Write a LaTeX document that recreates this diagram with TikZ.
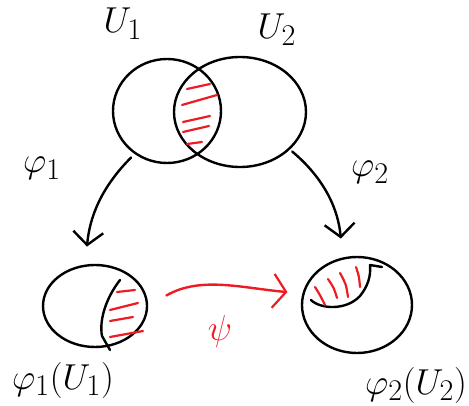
\documentclass[tikz,border=0pt]{standalone}
\usetikzlibrary{shapes.geometric,arrows.meta}
\definecolor{hred}{RGB}{237,28,36}
\begin{document}
\begin{tikzpicture}[x=1pt,y=-1pt,
  line width=2.4pt, line cap=round, line join=round,
  oval/.style={ellipse, draw=black, inner sep=0pt},
  hatch/.style={draw=hred, line width=2.2pt},
  lbl/.style={font=\Huge, scale=1.45, inner sep=0pt},
  maparrow/.style={-{Straight Barb[length=13pt,width=30pt,line width=2.4pt]}}]
\useasboundingbox (0,0) rectangle (469,406);
% top sets
\node[oval, minimum width=108pt, minimum height=104pt] (u1) at (167,111) {};
\node[oval, minimum width=132pt, minimum height=110pt] (u2) at (240,112) {};
% hatching of the overlap
\draw[hatch] (187,89) -- (210,84);
\draw[hatch] (182,105) -- (217,95);
\draw[hatch] (183,122) -- (210,116);
\draw[hatch] (183,132) -- (209,126);
\draw[hatch] (187,144) -- (202,142);
% bottom images
\node[oval, minimum width=104pt, minimum height=82pt] (v1) at (95,306) {};
\node[oval, minimum width=110pt, minimum height=96pt] (v2) at (357,305) {};
% inner boundaries
\draw (120,280) .. controls (106,298) and (99,320) .. (102,336) -- (110,350);
\draw (311,300) .. controls (320,309) and (346,311) .. (360,296)
      .. controls (368,286) and (371,276) .. (370,265) -- (382,267);
% hatching bottom-left
\draw[hatch] (117,292) -- (135,290);
\draw[hatch] (110,310) -- (138,303);
\draw[hatch] (110,321) -- (133,317);
\draw[hatch] (110,337) -- (143,331);
% hatching bottom-right
\draw[hatch] (315,287) .. controls (320,295) .. (325,305);
\draw[hatch] (328,279) .. controls (334,288) .. (337,298);
\draw[hatch] (340,273) .. controls (346,284) .. (348,297);
\draw[hatch] (356,267) .. controls (359,276) .. (360,287);
% maps
\draw[maparrow, shorten <=5pt, shorten >=18pt] (u1.233) to[out=225, in=85] (v1.103);
\draw[maparrow, shorten <=3pt, shorten >=19pt] (u2.323) to[out=-40, in=95] (v2.107);
\draw[maparrow, draw=hred, shorten <=21pt, shorten >=15pt,
      -{Straight Barb[length=13pt,width=34pt,line width=2.2pt]}] (v1.east) to[out=30, in=175] (v2.168);
% labels
\node[lbl] (lu1) at (123,24) {$U_1$};
\node[lbl] (lu2) at (277,30) {$U_2$};
\node[lbl] (lp1) at (42,168) {$\varphi_1$};
\node[lbl] (lp2) at (370,172) {$\varphi_2$};
\node[lbl, text=hred] (lpsi) at (220,331) {$\psi$};
\node[lbl] (lv1) at (63,380) {$\varphi_1(U_1)$};
\node[lbl] (lv2) at (416,385) {$\varphi_2(U_2)$};
\end{tikzpicture}
\end{document}
